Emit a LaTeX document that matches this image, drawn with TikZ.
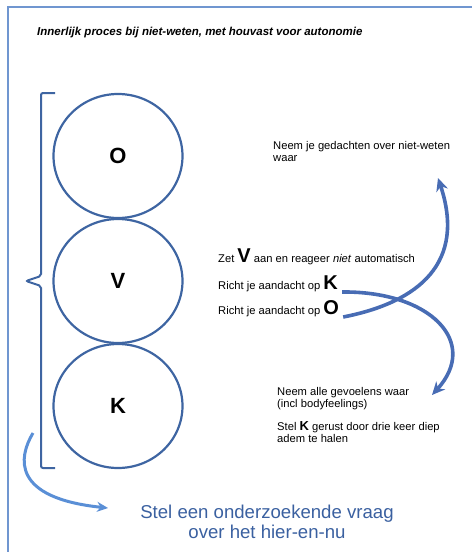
\documentclass[tikz,border=0pt]{standalone}
\usepackage{fontspec}
\setmainfont{Liberation Sans}
\usetikzlibrary{arrows.meta,shapes.geometric}
\definecolor{circblue}{RGB}{62,101,162}
\definecolor{framblue}{RGB}{112,150,208}
\definecolor{arrblue}{RGB}{72,108,180}
\definecolor{lightarr}{RGB}{90,143,214}
\definecolor{txtblue}{RGB}{58,96,160}
\tikzset{
  ring/.style={draw=circblue, line width=2.2pt, shape=ellipse, minimum width=129pt, minimum height=124pt, inner sep=0pt, font=\fontsize{22}{24}\selectfont\bfseries},
  small/.style={anchor=base west, inner sep=0pt, font=\fontsize{11.2}{12}\selectfont, align=left},
  bigarrow/.style={draw=arrblue, line width=3.6pt, -{Stealth[length=13pt,width=12pt]}},
  lightarrow/.style={draw=lightarr, line width=3pt, -{Stealth[length=11pt,width=10pt]}},
}
\newcommand{\bigL}[1]{{\fontsize{20}{20}\selectfont\bfseries #1}}
\begin{document}
\begin{tikzpicture}[x=1pt,y=-1pt]
\useasboundingbox (0,0) rectangle (472,552);
% frame
\draw[framblue, line width=1.5pt] (8,552) -- (8,7) -- (472,7);
% title
\node[anchor=base west, inner sep=0pt, font=\fontsize{11.5}{12}\selectfont\bfseries\itshape] (title) at (37,35) {Innerlijk proces bij niet-weten, met houvast voor autonomie};
% circles
\node[ring] (O) at (118,156) {O};
\node[ring] (V) at (118,281) {V};
\node[ring] (K) at (118,406) {K};
% bracket
\draw[circblue, line width=2pt, rounded corners=2pt] (55,93) -- (41,93) -- (41,276) -- (26,281) -- (41,286) -- (41,468) -- (55,468);
% right texts (base = last line)
\node[small] (t1) at (273,161) {Neem je gedachten over niet-weten\\waar};
\node[small] (t2) at (218,262) {Zet \bigL{V} aan en reageer \textit{niet} automatisch};
\node[small] (t3) at (218,289) {Richt je aandacht op \bigL{K}};
\node[small] (t4) at (218,314) {Richt je aandacht op \bigL{O}};
\node[small] (t5) at (277,407) {Neem alle gevoelens waar\\(incl bodyfeelings)};
\node[small, font=\fontsize{11.2}{11.5}\selectfont] (t6) at (277,442) {Stel {\fontsize{13}{13}\selectfont\bfseries K} gerust door drie keer diep\\adem te halen};
% curved arrows
\coordinate (upEnd) at (438,178);
\coordinate (downEnd) at (432,395);
\draw[bigarrow] ([xshift=4pt,yshift=-3pt]t4.base east) .. controls (420,302) and (466,262) .. (upEnd);
\draw[bigarrow] ([xshift=4pt,yshift=-3pt]t3.base east) .. controls (430,291) and (480,342) .. (downEnd);
% bottom text
\node[anchor=base, inner sep=0pt, text=txtblue, font=\fontsize{18.6}{20}\selectfont, align=center] (q) at (267,538) {Stel een onderzoekende vraag\\over het hier-en-nu};
\coordinate (qs) at (33,433);
\draw[lightarrow] (qs) .. controls (18,458) and (12,498) .. (108,508);
\end{tikzpicture}
\end{document}
